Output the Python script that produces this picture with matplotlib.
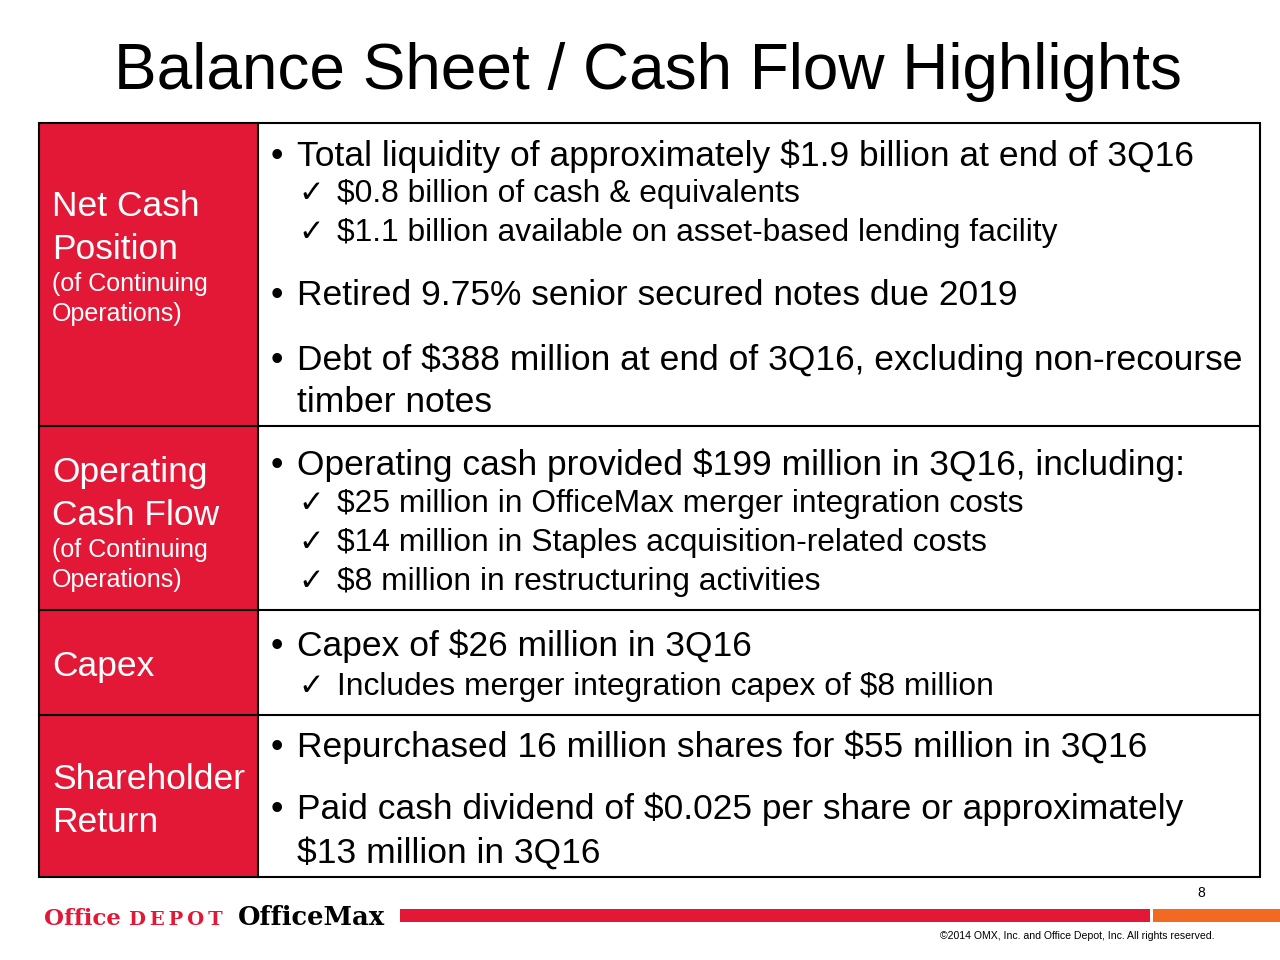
import matplotlib.pyplot as plt
from matplotlib.patches import Rectangle

plt.rcParams['font.family'] = ['Liberation Sans', 'DejaVu Sans']

RED = '#E31837'
ORANGE = '#F26A21'

title = 'Balance Sheet / Cash Flow Highlights'

# row label, sub label, row bottom edge
row_names = [['Net Cash', 'Position'], ['Operating', 'Cash Flow'], ['Capex'], ['Shareholder', 'Return']]
row_subs = [['(of Continuing', 'Operations)'], ['(of Continuing', 'Operations)'], [], []]
row_label_y = [216, 482, 676, 789]
row_edges = [123, 426, 610, 715, 877]

# body lines: (kind, text, baseline)
lines = [
    ('b', 'Total liquidity of approximately $1.9 billion at end of 3Q16', 166),
    ('c', '$0.8 billion of cash & equivalents', 202),
    ('c', '$1.1 billion available on asset-based lending facility', 241),
    ('b', 'Retired 9.75% senior secured notes due 2019', 305),
    ('b', 'Debt of $388 million at end of 3Q16, excluding non-recourse', 370),
    ('t', 'timber notes', 412),
    ('b', 'Operating cash provided $199 million in 3Q16, including:', 475),
    ('c', '$25 million in OfficeMax merger integration costs', 512),
    ('c', '$14 million in Staples acquisition-related costs', 551),
    ('c', '$8 million in restructuring activities', 590),
    ('b', 'Capex of $26 million in 3Q16', 656),
    ('c', 'Includes merger integration capex of $8 million', 695),
    ('b', 'Repurchased 16 million shares for $55 million in 3Q16', 757),
    ('b', 'Paid cash dividend of $0.025 per share or approximately', 819),
    ('t', '$13 million in 3Q16', 863),
]

fig = plt.figure(figsize=(12.8, 9.6), dpi=100)
ax = fig.add_axes([0, 0, 1, 1])
ax.set_xlim(0, 1280)
ax.set_ylim(960, 0)
ax.axis('off')

ax.text(648, 89, title, fontsize=46, ha='center', va='baseline')

# table
ax.add_patch(Rectangle((39, 123), 219, 754, facecolor=RED, edgecolor='none'))
ax.add_patch(Rectangle((39, 123), 1221, 754, facecolor='none', edgecolor='black', lw=1.5))
ax.plot([258, 258], [123, 877], color='black', lw=1.5)
for y in row_edges[1:-1]:
    ax.plot([39, 1260], [y, y], color='black', lw=1.5)

for names, subs, y0 in zip(row_names, row_subs, row_label_y):
    y = y0
    for n in names:
        ax.text(52, y, n, fontsize=25.5, color='white', va='baseline')
        y += 43
    y -= 43 - 32
    for s in subs:
        ax.text(52, y, s, fontsize=18, color='white', va='baseline')
        y += 30

for kind, txt, y in lines:
    if kind == 'b':
        ax.text(271, y, '•', fontsize=25.5, va='baseline')
        ax.text(297, y, txt, fontsize=25.5, va='baseline')
    elif kind == 't':
        ax.text(297, y, txt, fontsize=25.5, va='baseline')
    else:
        ax.text(298, y, '✓', fontsize=22, va='baseline', family='DejaVu Sans')
        ax.text(337, y, txt, fontsize=22.9, va='baseline')

# footer
ax.text(1205, 897, '8', fontsize=10, ha='right', va='baseline')
ax.text(44, 925, 'Office', fontsize=16.5, color=RED, weight='bold', family='DejaVu Serif', va='baseline')
ax.text(129, 925, 'D\u2009E\u2009P\u2009O\u2009T', fontsize=14, color=RED, weight='bold',
        family='DejaVu Serif', va='baseline')
ax.text(238, 925, 'OfficeMax', fontsize=18.5, color='black', weight='bold', family='DejaVu Serif', va='baseline')
ax.add_patch(Rectangle((400, 909), 750, 13, facecolor=RED, edgecolor='none'))
ax.add_patch(Rectangle((1153, 909), 127, 13, facecolor=ORANGE, edgecolor='none'))
ax.text(1215, 939, '©2014 OMX, Inc. and Office Depot, Inc. All rights reserved.', fontsize=7.6, ha='right', va='baseline')

fig.savefig('out.png', dpi=100)
